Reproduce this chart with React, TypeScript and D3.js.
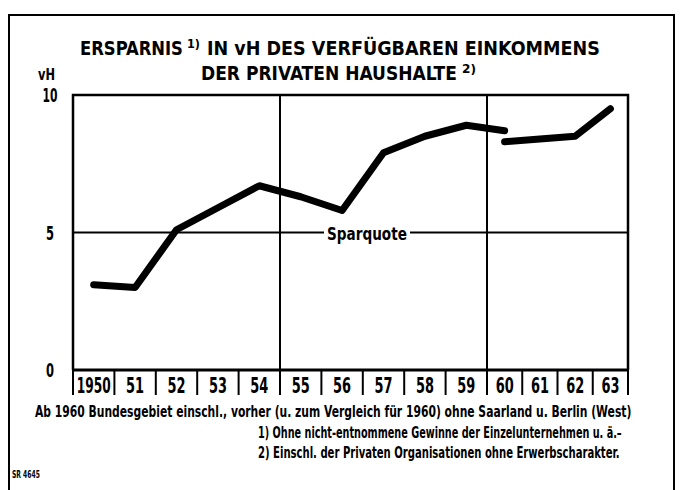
import React, { useLayoutEffect, useRef, useState } from 'react';
import * as d3 from 'd3';

const yearLabels = ['1950', '51', '52', '53', '54', '55', '56', '57', '58', '59', '60', '61', '62', '63'];
const yearsOld = [1950, 1951, 1952, 1953, 1954, 1955, 1956, 1957, 1958, 1959, 1960];
const sparquoteOld = [3.1, 3.0, 5.1, 5.9, 6.7, 6.3, 5.8, 7.9, 8.5, 8.9, 8.7];
const yearsNew = [1960, 1961, 1962, 1963];
const sparquoteNew = [8.3, 8.4, 8.5, 9.5];
const yTicks = [0, 5, 10];
const gridYears = [1954.5, 1959.5];

const FONT = "'DejaVu Sans', 'Liberation Sans', sans-serif";

type FitProps = { x: number; y: number; width: number; fontSize: number; anchor?: string; children: string };

function FitText({ x, y, width, fontSize, anchor = 'start', children }: FitProps) {
  const ref = useRef<SVGTextElement>(null);
  const [scale, setScale] = useState(1);
  useLayoutEffect(() => {
    if (ref.current) {
      const w = ref.current.getComputedTextLength();
      if (w > 0) setScale(width / w);
    }
  }, [width, children, fontSize]);
  return (
    <text ref={ref} transform={`translate(${x},${y}) scale(${scale},1)`} fontSize={fontSize} textAnchor={anchor}>
      {children}
    </text>
  );
}

export default function App() {
  const W = 681, H = 490;
  const left = 73, right = 628, top = 95, bottom = 370;
  const x = d3.scaleLinear().domain([1949.5, 1959.5, 1963.5]).range([left, 487, right]);
  const y = d3.scaleLinear().domain([0, 10]).range([bottom, top]);
  const line = d3.line<[number, number]>().x(d => x(d[0])).y(d => y(d[1]));
  const oldPts: [number, number][] = yearsOld.map((yr, i) => [yr, sparquoteOld[i]]);
  const newPts: [number, number][] = yearsNew.map((yr, i) => [yr, sparquoteNew[i]]);
  const seps = d3.range(1949.5, 1964, 1);
  const yearNums = d3.range(1950, 1964);

  return (
    <svg width={W} height={H} style={{ position: 'absolute', left: 0, top: 0, background: '#fff', fontStretch: 'condensed' }}
      fontFamily={FONT} fontWeight="bold">
      <rect x={0} y={0} width={W} height={H} fill="#fff" />
      {/* outer border */}
      <path d={`M9,490 V15 H674 V490`} fill="none" stroke="#000" strokeWidth={2} />

      {/* title */}
      <FitText x={80} y={55} fontSize={19} width={103}>ERSPARNIS</FitText>
      <FitText x={187} y={48} fontSize={12} width={13}>1)</FitText>
      <FitText x={207} y={55} fontSize={19} width={393}>IN vH DES VERFÜGBAREN EINKOMMENS</FitText>
      <FitText x={201} y={80} fontSize={19} width={256}>DER PRIVATEN HAUSHALTE</FitText>
      <FitText x={462} y={73} fontSize={12} width={14}>2)</FitText>
      <FitText x={38} y={80} fontSize={15} width={17}>vH</FitText>

      {/* y labels */}
      {yTicks.map(t => (
        <FitText key={t} x={50} y={y(t) + 7} fontSize={19} anchor="middle" width={t === 10 ? 15 : 8}>{String(t)}</FitText>
      ))}

      {/* grid */}
      <line x1={left} x2={right} y1={y(5)} y2={y(5)} stroke="#000" strokeWidth={2} />
      {gridYears.map(g => (
        <line key={g} x1={x(g)} x2={x(g)} y1={top} y2={bottom} stroke="#000" strokeWidth={2} />
      ))}

      {/* Sparquote label */}
      <rect x={324} y={y(5) - 11} width={86} height={22} fill="#fff" />
      <FitText x={367} y={y(5) + 7} fontSize={18} anchor="middle" width={80}>Sparquote</FitText>

      {/* frame */}
      <path d={`M${left},${bottom} V${top} H${right} V${bottom}`} fill="none" stroke="#000" strokeWidth={2.5} />
      <line x1={left} x2={right} y1={bottom} y2={bottom} stroke="#000" strokeWidth={3} />
      {seps.map(s => (
        <line key={s} x1={x(s)} x2={x(s)} y1={bottom} y2={bottom + 25} stroke="#000" strokeWidth={2} />
      ))}
      {yearNums.map((yr, i) => (
        <FitText key={yr} x={x(yr)} y={bottom + 23} fontSize={21} anchor="middle"
          width={yearLabels[i].length === 4 ? 34 : 18}>{yearLabels[i]}</FitText>
      ))}

      {/* data lines */}
      <path d={line(oldPts) || ''} fill="none" stroke="#000" strokeWidth={7} strokeLinejoin="round" strokeLinecap="round" />
      <path d={line(newPts) || ''} fill="none" stroke="#000" strokeWidth={7} strokeLinejoin="round" strokeLinecap="round" />

      {/* footnotes */}
      <FitText x={35} y={417} fontSize={15} width={597}>
        Ab 1960 Bundesgebiet einschl., vorher (u. zum Vergleich für 1960) ohne Saarland u. Berlin (West)
      </FitText>
      <FitText x={258} y={438} fontSize={15} width={364}>
        1) Ohne nicht-entnommene Gewinne der Einzelunternehmen u. ä.–
      </FitText>
      <FitText x={258} y={458} fontSize={15} width={362}>
        2) Einschl. der Privaten Organisationen ohne Erwerbscharakter.
      </FitText>
      <FitText x={12} y={478} fontSize={11} width={28}>SR 4645</FitText>
    </svg>
  );
}
